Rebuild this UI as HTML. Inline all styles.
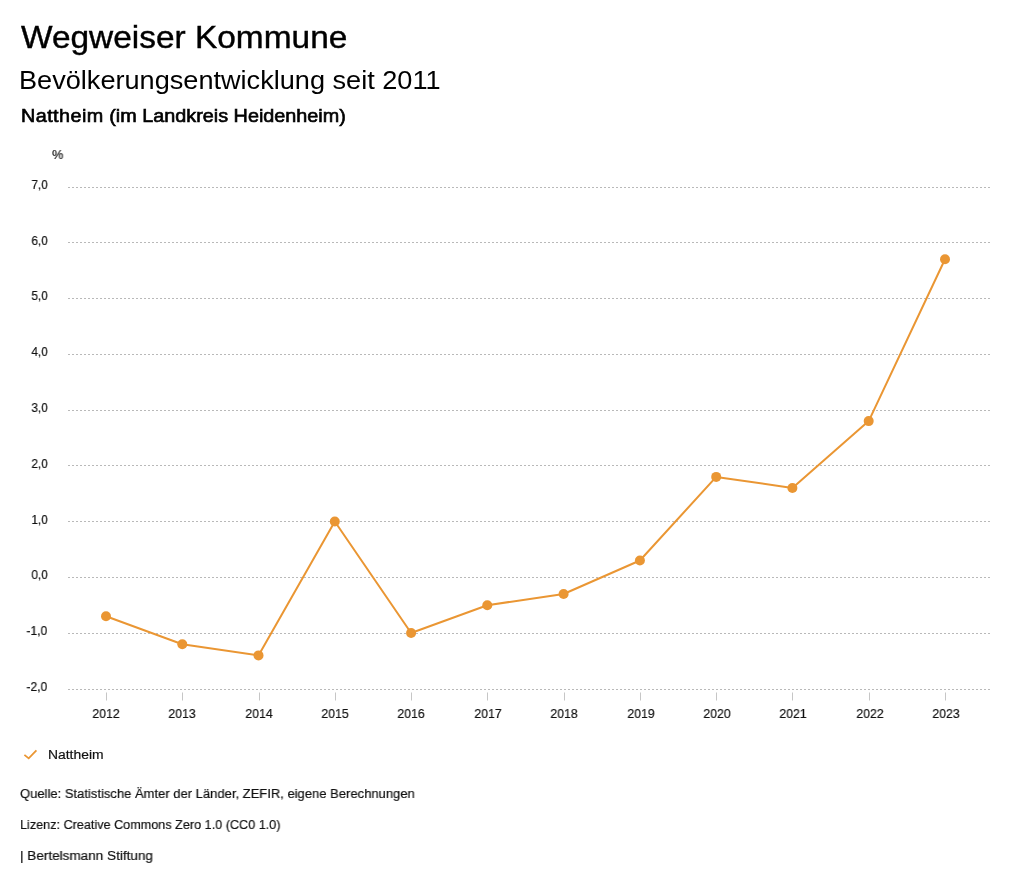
<!DOCTYPE html>
<html lang="de">
<head>
<meta charset="utf-8">
<title>Wegweiser Kommune – Bevölkerungsentwicklung seit 2011 – Nattheim</title>
<style>
html,body{margin:0;padding:0;background:#fff;}
body{width:1024px;height:888px;position:relative;overflow:hidden;font-family:"Liberation Sans",sans-serif;color:#000;}
.t{position:absolute;will-change:transform;white-space:nowrap;line-height:1;margin:0;transform-origin:0 0;font-weight:400;}
.r{transform-origin:100% 0;}
.c{transform-origin:50% 0;}
.a{color:#111;-webkit-text-stroke:0.2px #111;}
svg{position:absolute;left:0;top:0;}
</style>
</head>
<body>
<h1 class="t" id="title" style="left:21.00px;top:22.00px;font-size:30.5px;transform:scaleX(1.0958);-webkit-text-stroke:0.4px currentColor;">Wegweiser Kommune</h1>
<h2 class="t" id="sub" style="left:19.40px;top:68.00px;font-size:25.4px;transform:scaleX(1.0680);">Bevölkerungsentwicklung seit 2011</h2>
<h3 class="t" id="l3" style="left:20.80px;top:106.00px;font-size:19.1px;transform:scaleX(1.0371);-webkit-text-stroke:0.65px currentColor;"><span style="letter-spacing:0.42px">Nattheim</span> (im Landkreis Heidenheim)</h3>
<svg width="1024" height="888" viewBox="0 0 1024 888" role="img" aria-label="Liniendiagramm Bevölkerungsentwicklung Nattheim 2012–2023">
<g fill="none" stroke="#b9b9b9" stroke-width="1" stroke-dasharray="2 2" shape-rendering="crispEdges">
<line x1="68" y1="187.5" x2="990" y2="187.5"/>
<line x1="68" y1="242.5" x2="990" y2="242.5"/>
<line x1="68" y1="298.5" x2="990" y2="298.5"/>
<line x1="68" y1="354.5" x2="990" y2="354.5"/>
<line x1="68" y1="410.5" x2="990" y2="410.5"/>
<line x1="68" y1="465.5" x2="990" y2="465.5"/>
<line x1="68" y1="521.5" x2="990" y2="521.5"/>
<line x1="68" y1="577.5" x2="990" y2="577.5"/>
<line x1="68" y1="633.5" x2="990" y2="633.5"/>
<line x1="68" y1="689.5" x2="990" y2="689.5"/>
</g>
<g fill="#c6c6c6">
<rect x="106" y="692.5" width="1" height="8"/>
<rect x="182" y="692.5" width="1" height="8"/>
<rect x="259" y="692.5" width="1" height="8"/>
<rect x="335" y="692.5" width="1" height="8"/>
<rect x="411" y="692.5" width="1" height="8"/>
<rect x="487" y="692.5" width="1" height="8"/>
<rect x="564" y="692.5" width="1" height="8"/>
<rect x="640" y="692.5" width="1" height="8"/>
<rect x="716" y="692.5" width="1" height="8"/>
<rect x="792" y="692.5" width="1" height="8"/>
<rect x="869" y="692.5" width="1" height="8"/>
<rect x="945" y="692.5" width="1" height="8"/>
</g>
<polyline points="106.0,616.3 182.3,644.2 258.5,655.4 334.8,521.5 411.1,633.0 487.3,605.2 563.6,594.0 639.9,560.5 716.2,476.9 792.4,488.0 868.7,421.1 945.0,259.3" fill="none" stroke="#ea9633" stroke-width="2" stroke-linejoin="round" stroke-linecap="round"/>
<g fill="#ea9633">
<circle cx="106.0" cy="616.3" r="5"/>
<circle cx="182.3" cy="644.2" r="5"/>
<circle cx="258.5" cy="655.4" r="5"/>
<circle cx="334.8" cy="521.5" r="5"/>
<circle cx="411.1" cy="633.0" r="5"/>
<circle cx="487.3" cy="605.2" r="5"/>
<circle cx="563.6" cy="594.0" r="5"/>
<circle cx="639.9" cy="560.5" r="5"/>
<circle cx="716.2" cy="476.9" r="5"/>
<circle cx="792.4" cy="488.0" r="5"/>
<circle cx="868.7" cy="421.1" r="5"/>
<circle cx="945.0" cy="259.3" r="5"/>
</g>
<path d="M24.4 754.9 L28.7 758.4 L36.4 750.4" fill="none" stroke="#ea9633" stroke-width="1.8"/>
</svg>
<span class="t a" id="pct" style="left:52.00px;top:148.00px;font-size:13.5px;transform:scaleX(0.9400);">%</span>
<div class="t r a yl" style="right:976.10px;top:178.00px;font-size:13.5px;transform:scaleX(0.87);">7,0</div>
<div class="t r a yl" style="right:976.10px;top:234.00px;font-size:13.5px;transform:scaleX(0.87);">6,0</div>
<div class="t r a yl" style="right:976.10px;top:289.00px;font-size:13.5px;transform:scaleX(0.87);">5,0</div>
<div class="t r a yl" style="right:976.10px;top:345.00px;font-size:13.5px;transform:scaleX(0.87);">4,0</div>
<div class="t r a yl" style="right:976.10px;top:401.00px;font-size:13.5px;transform:scaleX(0.87);">3,0</div>
<div class="t r a yl" style="right:976.10px;top:457.00px;font-size:13.5px;transform:scaleX(0.87);">2,0</div>
<div class="t r a yl" style="right:976.10px;top:513.00px;font-size:13.5px;transform:scaleX(0.87);">1,0</div>
<div class="t r a yl" style="right:976.10px;top:568.00px;font-size:13.5px;transform:scaleX(0.87);">0,0</div>
<div class="t r a yl" style="right:976.70px;top:624.00px;font-size:13.5px;transform:scaleX(0.895);">-1,0</div>
<div class="t r a yl" style="right:976.70px;top:680.00px;font-size:13.5px;transform:scaleX(0.895);">-2,0</div>
<div class="t c a xl" style="left:76.00px;width:60px;text-align:center;top:707.00px;font-size:13.5px;transform:scaleX(0.91);">2012</div>
<div class="t c a xl" style="left:152.36px;width:60px;text-align:center;top:707.00px;font-size:13.5px;transform:scaleX(0.91);">2013</div>
<div class="t c a xl" style="left:228.72px;width:60px;text-align:center;top:707.00px;font-size:13.5px;transform:scaleX(0.91);">2014</div>
<div class="t c a xl" style="left:305.08px;width:60px;text-align:center;top:707.00px;font-size:13.5px;transform:scaleX(0.91);">2015</div>
<div class="t c a xl" style="left:381.44px;width:60px;text-align:center;top:707.00px;font-size:13.5px;transform:scaleX(0.91);">2016</div>
<div class="t c a xl" style="left:457.80px;width:60px;text-align:center;top:707.00px;font-size:13.5px;transform:scaleX(0.91);">2017</div>
<div class="t c a xl" style="left:534.16px;width:60px;text-align:center;top:707.00px;font-size:13.5px;transform:scaleX(0.91);">2018</div>
<div class="t c a xl" style="left:610.52px;width:60px;text-align:center;top:707.00px;font-size:13.5px;transform:scaleX(0.91);">2019</div>
<div class="t c a xl" style="left:686.88px;width:60px;text-align:center;top:707.00px;font-size:13.5px;transform:scaleX(0.91);">2020</div>
<div class="t c a xl" style="left:763.24px;width:60px;text-align:center;top:707.00px;font-size:13.5px;transform:scaleX(0.91);">2021</div>
<div class="t c a xl" style="left:839.60px;width:60px;text-align:center;top:707.00px;font-size:13.5px;transform:scaleX(0.91);">2022</div>
<div class="t c a xl" style="left:915.96px;width:60px;text-align:center;top:707.00px;font-size:13.5px;transform:scaleX(0.91);">2023</div>
<span class="t a" id="leg" style="left:48.00px;top:748.00px;font-size:13.7px;transform:scaleX(1.0137);">Nattheim</span>
<p class="t a" id="f1" style="left:20.30px;top:787.00px;font-size:13.7px;transform:scaleX(0.9503);">Quelle: Statistische Ämter der Länder, ZEFIR, eigene Berechnungen</p>
<p class="t a" id="f2" style="left:20.30px;top:818.00px;font-size:13.7px;transform:scaleX(0.9228);">Lizenz: Creative Commons Zero 1.0 (CC0 1.0)</p>
<p class="t a" id="f3" style="left:20.00px;top:849.00px;font-size:13.7px;transform:scaleX(0.9889);">| Bertelsmann Stiftung</p>
</body>
</html>
